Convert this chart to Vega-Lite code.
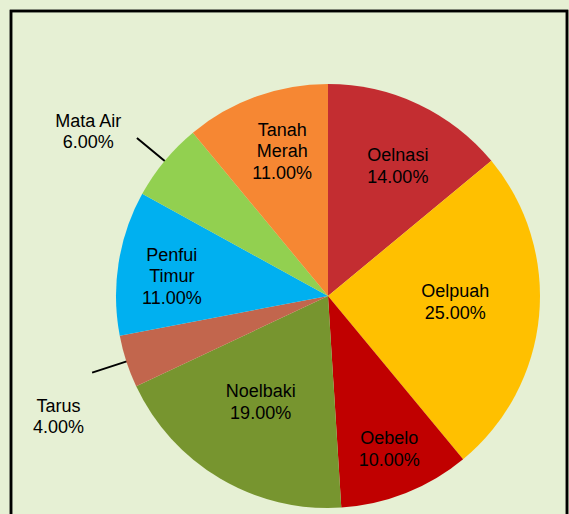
{
  "$schema": "https://vega.github.io/schema/vega-lite/v6.json",
  "width": 556,
  "height": 520,
  "autosize": {"type": "none"},
  "padding": {"left": 11, "top": 11, "right": 2, "bottom": 0},
  "background": "#e6f0d4",
  "view": {"stroke": "#000000", "strokeWidth": 2.5},
  "config": {
    "text": {"font": "Liberation Sans", "fontSize": 18, "lineHeight": 21.5, "lineBreak": "\n", "align": "center", "baseline": "middle", "color": "#000000"}
  },
  "data": {
    "values": [
      {"idx": 1, "region": "Oelnasi", "value": 14, "label": "Oelnasi\n14.00%"},
      {"idx": 2, "region": "Oelpuah", "value": 25, "label": "Oelpuah\n25.00%"},
      {"idx": 3, "region": "Oebelo", "value": 10, "label": "Oebelo\n10.00%"},
      {"idx": 4, "region": "Noelbaki", "value": 19, "label": "Noelbaki\n19.00%"},
      {"idx": 5, "region": "Tarus", "value": 4, "label": "Tarus\n4.00%"},
      {"idx": 6, "region": "Penfui Timur", "value": 11, "label": "Penfui\nTimur\n11.00%"},
      {"idx": 7, "region": "Mata Air", "value": 6, "label": "Mata Air\n6.00%"},
      {"idx": 8, "region": "Tanah Merah", "value": 11, "label": "Tanah\nMerah\n11.00%"}
    ]
  },
  "layer": [
    {
      "data": {"values": [{"frame": 1}]},
      "mark": {"type": "rect", "fill": null, "stroke": "#000000", "strokeWidth": 2.5}
    },
    {
      "mark": {"type": "arc", "innerRadius": 206, "outerRadius": 248, "padAngle": 0.8, "fill": null, "strokeWidth": 2, "strokeJoin": "miter", "xOffset": 39, "yOffset": 25},
      "encoding": {
        "theta": {"field": "value", "type": "quantitative", "stack": true},
        "order": {"field": "idx", "type": "quantitative"},
        "stroke": {"condition": {"test": "datum.region === 'Mata Air' || datum.region === 'Tarus'", "value": "#000000"}, "value": null}
      }
    },
    {
      "mark": {"type": "arc", "radius": 212, "xOffset": 39, "yOffset": 25},
      "encoding": {
        "theta": {"field": "value", "type": "quantitative", "stack": true},
        "order": {"field": "idx", "type": "quantitative"},
        "color": {
          "field": "region",
          "type": "nominal",
          "legend": null,
          "scale": {
            "domain": ["Oelnasi", "Oelpuah", "Oebelo", "Noelbaki", "Tarus", "Penfui Timur", "Mata Air", "Tanah Merah"],
            "range": ["#c32d31", "#ffc000", "#c00000", "#77952f", "#c2664d", "#00b0f0", "#92d050", "#f68733"]
          }
        }
      }
    },
    {
      "mark": {"type": "text", "radius": 150, "xOffset": 39, "yOffset": 25, "dx": 6, "dy": -4},
      "encoding": {
        "theta": {"field": "value", "type": "quantitative", "stack": true},
        "order": {"field": "idx", "type": "quantitative"},
        "text": {"condition": {"test": "datum.region === 'Oelnasi'", "field": "label"}, "value": ""}
      }
    },
    {
      "mark": {"type": "text", "radius": 150, "xOffset": 39, "yOffset": 25, "dx": -22, "dy": -18},
      "encoding": {
        "theta": {"field": "value", "type": "quantitative", "stack": true},
        "order": {"field": "idx", "type": "quantitative"},
        "text": {"condition": {"test": "datum.region === 'Oelpuah'", "field": "label"}, "value": ""}
      }
    },
    {
      "mark": {"type": "text", "radius": 150, "xOffset": 39, "yOffset": 25, "dx": 6, "dy": 4},
      "encoding": {
        "theta": {"field": "value", "type": "quantitative", "stack": true},
        "order": {"field": "idx", "type": "quantitative"},
        "text": {"condition": {"test": "datum.region === 'Oebelo'", "field": "label"}, "value": ""}
      }
    },
    {
      "mark": {"type": "text", "radius": 150, "xOffset": 39, "yOffset": 25, "dx": 9, "dy": -33},
      "encoding": {
        "theta": {"field": "value", "type": "quantitative", "stack": true},
        "order": {"field": "idx", "type": "quantitative"},
        "text": {"condition": {"test": "datum.region === 'Noelbaki'", "field": "label"}, "value": ""}
      }
    },
    {
      "mark": {"type": "text", "radius": 150, "xOffset": 39, "yOffset": 25, "dx": -8, "dy": -17},
      "encoding": {
        "theta": {"field": "value", "type": "quantitative", "stack": true},
        "order": {"field": "idx", "type": "quantitative"},
        "text": {"condition": {"test": "datum.region === 'Penfui Timur'", "field": "label"}, "value": ""}
      }
    },
    {
      "mark": {"type": "text", "radius": 150, "xOffset": 39, "yOffset": 25, "dx": 5, "dy": -24},
      "encoding": {
        "theta": {"field": "value", "type": "quantitative", "stack": true},
        "order": {"field": "idx", "type": "quantitative"},
        "text": {"condition": {"test": "datum.region === 'Tanah Merah'", "field": "label"}, "value": ""}
      }
    },
    {
      "mark": {"type": "text", "radius": 289, "xOffset": 39, "yOffset": 25, "dx": -17, "dy": 10},
      "encoding": {
        "theta": {"field": "value", "type": "quantitative", "stack": true},
        "order": {"field": "idx", "type": "quantitative"},
        "text": {"condition": {"test": "datum.region === 'Mata Air'", "field": "label"}, "value": ""}
      }
    },
    {
      "mark": {"type": "text", "radius": 277, "xOffset": 39, "yOffset": 25, "dx": -6, "dy": 25},
      "encoding": {
        "theta": {"field": "value", "type": "quantitative", "stack": true},
        "order": {"field": "idx", "type": "quantitative"},
        "text": {"condition": {"test": "datum.region === 'Tarus'", "field": "label"}, "value": ""}
      }
    }
  ]
}
